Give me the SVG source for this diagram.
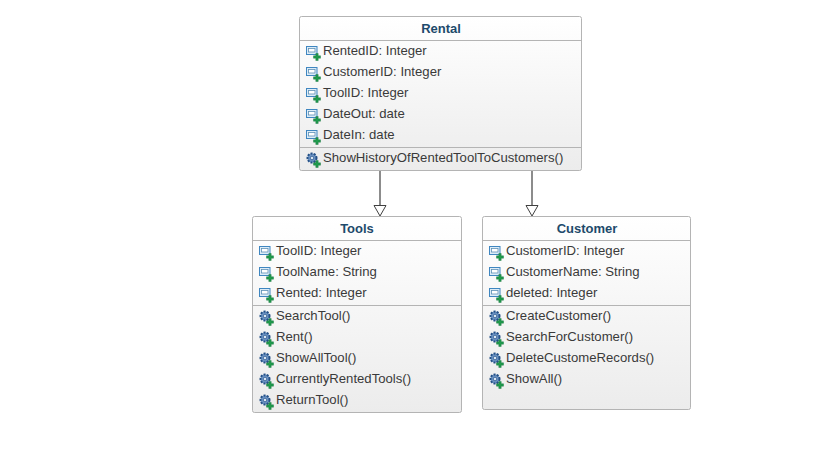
<svg xmlns="http://www.w3.org/2000/svg" width="825" height="464" viewBox="0 0 825 464">
<style>
text{font-family:"Liberation Sans",Arial,sans-serif;font-size:13.15px;fill:#3a3a3a}
.t{font-weight:700;font-size:13px;fill:#1d4a6b;text-anchor:middle}
.b{fill:url(#g);stroke:#b4b4b4;stroke-width:1}
.s{stroke:#b4b4b4;stroke-width:1;fill:none}
.c{stroke:#666;stroke-width:1.5;fill:none}
.h{fill:#fff;stroke:#404040;stroke-width:1}
</style>
<defs>
<linearGradient id="g" x1="0" y1="0" x2="0" y2="1"><stop offset="0" stop-color="#ffffff"/><stop offset="1" stop-color="#ececec"/></linearGradient>
<g id="plus"><path d="M9.800 8.500h2.400v2.300h2.300v2.400h-2.300v2.300H9.800v-2.300H7.500v-2.400h2.300z" fill="#1f9a4c" stroke="#13703a" stroke-width=".4"/></g>
<g id="attr"><rect x="0.500" y="1.500" width="10.500" height="8" fill="#dcecf8" stroke="#3f86c0"/><rect x="2.500" y="3.500" width="6.500" height="3.500" fill="#fff" stroke="#5e8fb5" stroke-width=".8"/><use href="#plus"/></g>
<g id="op"><circle cx="6" cy="6" r="4.500" fill="#6d94c4" stroke="#234f86" stroke-width="2" stroke-dasharray="2 1.200"/><circle cx="6" cy="6" r="1.800" fill="#dbe7f3" stroke="#234f86" stroke-width=".7"/><use href="#plus"/></g>
</defs>
<g id="connectors">
<path class="c" d="M380 171V205"/><path class="h" d="M374 205.500H386L380 216Z"/>
<path class="c" d="M532 171V205"/><path class="h" d="M526 205.500H538L532 216Z"/>
</g>
<g id="rental">
<rect class="b" x="299.500" y="16.500" width="282" height="154" rx="2"/>
<path class="s" d="M300 40.500H581M300 147.500H581"/>
<text class="t" x="441" y="33">Rental</text>
<use href="#attr" x="306" y="45"/><text x="323" y="54.500">RentedID: Integer</text>
<use href="#attr" x="306" y="66"/><text x="323" y="75.500">CustomerID: Integer</text>
<use href="#attr" x="306" y="87"/><text x="323" y="96.500">ToolID: Integer</text>
<use href="#attr" x="306" y="108"/><text x="323" y="117.500">DateOut: date</text>
<use href="#attr" x="306" y="129"/><text x="323" y="138.500">DateIn: date</text>
<use href="#op" x="306" y="152"/><text x="323" y="161.500">ShowHistoryOfRentedToolToCustomers()</text>
</g>
<g id="tools">
<rect class="b" x="252.500" y="216.500" width="209" height="196" rx="2"/>
<path class="s" d="M253 240.500H461M253 305.500H461"/>
<text class="t" x="357" y="233">Tools</text>
<use href="#attr" x="259" y="245"/><text x="276" y="254.500">ToolID: Integer</text>
<use href="#attr" x="259" y="266"/><text x="276" y="275.500">ToolName: String</text>
<use href="#attr" x="259" y="287"/><text x="276" y="296.500">Rented: Integer</text>
<use href="#op" x="259" y="310"/><text x="276" y="319.500">SearchTool()</text>
<use href="#op" x="259" y="331"/><text x="276" y="340.500">Rent()</text>
<use href="#op" x="259" y="352"/><text x="276" y="361.500">ShowAllTool()</text>
<use href="#op" x="259" y="373"/><text x="276" y="382.500">CurrentlyRentedTools()</text>
<use href="#op" x="259" y="394"/><text x="276" y="403.500">ReturnTool()</text>
</g>
<g id="customer">
<rect class="b" x="482.500" y="216.500" width="208" height="193" rx="2"/>
<path class="s" d="M483 240.500H690M483 305.500H690"/>
<text class="t" x="587" y="233">Customer</text>
<use href="#attr" x="489" y="245"/><text x="506" y="254.500">CustomerID: Integer</text>
<use href="#attr" x="489" y="266"/><text x="506" y="275.500">CustomerName: String</text>
<use href="#attr" x="489" y="287"/><text x="506" y="296.500">deleted: Integer</text>
<use href="#op" x="489" y="310"/><text x="506" y="319.500">CreateCustomer()</text>
<use href="#op" x="489" y="331"/><text x="506" y="340.500">SearchForCustomer()</text>
<use href="#op" x="489" y="352"/><text x="506" y="361.500">DeleteCustomeRecords()</text>
<use href="#op" x="489" y="373"/><text x="506" y="382.500">ShowAll()</text>
</g>
</svg>
